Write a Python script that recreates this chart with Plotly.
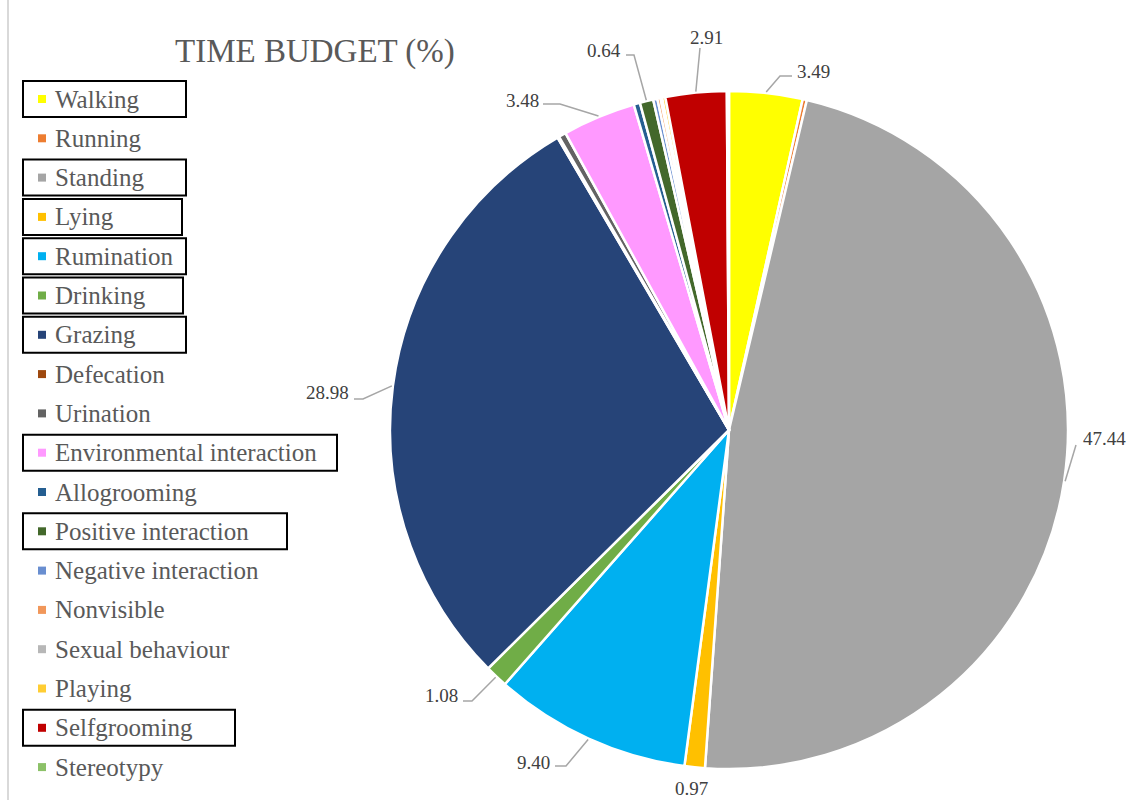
import math
import plotly.graph_objects as go

# Behaviour categories, share of observed time (%), and slice colours
categories = [
    "Walking", "Running", "Standing", "Lying", "Rumination", "Drinking",
    "Grazing", "Defecation", "Urination", "Environmental interaction",
    "Allogrooming", "Positive interaction", "Negative interaction",
    "Nonvisible", "Sexual behaviour", "Playing", "Selfgrooming", "Stereotypy",
]
values = [
    3.49, 0.20, 47.44, 0.97, 9.40, 1.08,
    28.98, 0.08, 0.35, 3.48,
    0.30, 0.64, 0.20,
    0.15, 0.08, 0.15, 2.91, 0.10,
]
colors = [
    "#FFFF00", "#ED7D31", "#A5A5A5", "#FFC000", "#00B0F0", "#70AD47",
    "#264478", "#9E480E", "#636363", "#FF99FF",
    "#255E91", "#43682B", "#698ED0",
    "#F1975A", "#B7B7B7", "#FFCD33", "#C00000", "#8CC168",
]

W, H = 1134, 800
CX, CY, R = 729, 430, 339


def fx(x):
    return x / W


def fy(y):
    return 1 - y / H


fig = go.Figure(go.Pie(
    labels=categories,
    values=values,
    sort=False,
    direction="clockwise",
    rotation=0,
    textinfo="none",
    hoverinfo="label+value",
    marker=dict(colors=colors, line=dict(color="white", width=2.5)),
    domain=dict(x=[fx(CX - R), fx(CX + R)], y=[fy(CY + R), fy(CY - R)]),
    showlegend=False,
))

# Label placement: text centre and elbow points of the leader line (pixels)
label_layout = {
    "Walking": ((813, 71), [(780, 76), (792, 76)]),
    "Standing": ((1104, 438), [(1076, 445)]),
    "Lying": ((691, 788), []),
    "Rumination": ((533, 762), [(566, 766), (555, 766)]),
    "Drinking": ((441, 695), [(472, 701), (463, 701)]),
    "Grazing": ((327, 392), [(363, 399), (354, 399)]),
    "Environmental interaction": ((522, 101), [(560, 104), (543, 104)]),
    "Positive interaction": ((604, 51), [(634, 55), (626, 55)]),
    "Selfgrooming": ((706, 37), [(700, 48)]),
}

total = sum(values)
annotations = []
shapes = []
cum = 0.0
for name, v in zip(categories, values):
    mid = (cum + v / 2) / total
    cum += v
    if name not in label_layout:
        continue
    (tx, ty), elbows = label_layout[name]
    ang = 2 * math.pi * mid
    ex = CX + (R + 1) * math.sin(ang)
    ey = CY - (R + 1) * math.cos(ang)
    if elbows:
        pts = [(ex, ey)] + elbows
        path = "M " + " L ".join(f"{fx(x):.5f},{fy(y):.5f}" for x, y in pts)
        shapes.append(dict(type="path", xref="paper", yref="paper", path=path,
                           line=dict(color="#A6A6A6", width=1.5)))
    annotations.append(dict(
        x=fx(tx), y=fy(ty), xref="paper", yref="paper", showarrow=False,
        text=f"{v:.2f}", xanchor="center", yanchor="middle",
        font=dict(family="Liberation Serif", size=19, color="#404040"),
    ))

# Legend drawn as marker squares and text rows
LEG_Y0, LEG_DY = 99, 39.3
box_right = {
    "Walking": 186, "Standing": 186, "Lying": 182, "Rumination": 186,
    "Drinking": 183, "Grazing": 186, "Environmental interaction": 337,
    "Positive interaction": 287, "Selfgrooming": 235,
}
for i, (name, col) in enumerate(zip(categories, colors)):
    yc = LEG_Y0 + i * LEG_DY
    shapes.append(dict(type="rect", xref="paper", yref="paper",
                       x0=fx(38), x1=fx(46), y0=fy(yc - 4), y1=fy(yc + 4),
                       fillcolor=col, line=dict(width=0)))
    annotations.append(dict(
        x=fx(53), y=fy(yc), xref="paper", yref="paper", showarrow=False,
        text=name, xanchor="left", yanchor="middle",
        font=dict(family="Liberation Serif", size=25, color="#595959"),
    ))
    if name in box_right:
        shapes.append(dict(type="rect", xref="paper", yref="paper",
                           x0=fx(23), x1=fx(box_right[name]),
                           y0=fy(yc - 18), y1=fy(yc + 18),
                           line=dict(color="black", width=2),
                           fillcolor="rgba(0,0,0,0)"))

# Chart title
annotations.append(dict(
    x=fx(315), y=fy(52), xref="paper", yref="paper", showarrow=False,
    text="TIME BUDGET (%)", xanchor="center", yanchor="middle",
    font=dict(family="Liberation Serif", size=33, color="#595959"),
))

# Thin frame line on the left edge
shapes.append(dict(type="line", xref="paper", yref="paper",
                   x0=fx(8), x1=fx(8), y0=0, y1=1,
                   line=dict(color="#D9D9D9", width=2)))

fig.update_layout(
    width=W, height=H,
    margin=dict(l=0, r=0, t=0, b=0),
    paper_bgcolor="white",
    plot_bgcolor="white",
    annotations=annotations,
    shapes=shapes,
)

fig.write_html("out.html")
